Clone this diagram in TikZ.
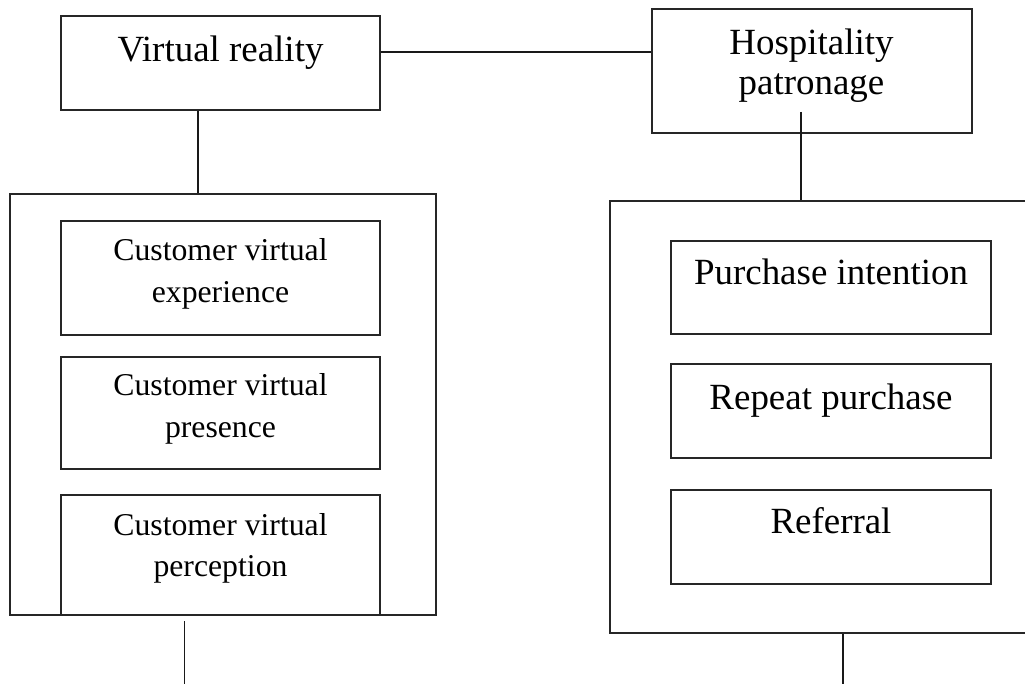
\documentclass[tikz,border=0pt]{standalone}
\usepackage{fontspec}
\setmainfont{Liberation Serif}
\begin{document}
\begin{tikzpicture}[x=0.75pt,y=-0.75pt,
  box/.style={draw=black!85, line width=1pt, rectangle, inner sep=0pt},
  conn/.style={draw=black!90, line width=1pt},
  lbl/.style={anchor=base, inner sep=0pt},
  big/.style={font=\fontsize{27.7}{30}\selectfont},
  small/.style={font=\fontsize{23.8}{31}\selectfont}]
\clip (0,0) rectangle (1025,684);
% boxes
\node[box, minimum width=319*0.75pt, minimum height=94*0.75pt] (vr) at (220.5,63) {};
\node[box, minimum width=320*0.75pt, minimum height=124*0.75pt] (hosp) at (812,71) {};
\node[box, minimum width=426*0.75pt, minimum height=421*0.75pt] (lc) at (223,404.5) {};
\node[box, minimum width=319*0.75pt, minimum height=114*0.75pt] (l1) at (220.5,278) {};
\node[box, minimum width=319*0.75pt, minimum height=112*0.75pt] (l2) at (220.5,413) {};
\node[box, minimum width=319*0.75pt, minimum height=120*0.75pt] (l3) at (220.5,555) {};
\node[box, minimum width=425*0.75pt, minimum height=432*0.75pt] (rc) at (822.5,417) {};
\node[box, minimum width=320*0.75pt, minimum height=93*0.75pt] (r1) at (831,287.5) {};
\node[box, minimum width=320*0.75pt, minimum height=94*0.75pt] (r2) at (831,411) {};
\node[box, minimum width=320*0.75pt, minimum height=94*0.75pt] (r3) at (831,537) {};
% labels
\node[lbl, big] (tvr) at (220.5,62) {Virtual reality};
\node[lbl, big] (thosp) at (811.5,55) {\begin{tabular}[t]{@{}c@{}}Hospitality\\patronage\end{tabular}};
\node[lbl, small] (tl1) at (220.5,261) {\begin{tabular}[t]{@{}c@{}}Customer virtual\\experience\end{tabular}};
\node[lbl, small] (tl2) at (220.5,396) {\begin{tabular}[t]{@{}c@{}}Customer virtual\\presence\end{tabular}};
\node[lbl, small] (tl3) at (220.5,535) {\begin{tabular}[t]{@{}c@{}}Customer virtual\\perception\end{tabular}};
\node[lbl, big] (tr1) at (831,285) {Purchase intention};
\node[lbl, big] (tr2) at (831,409) {Repeat purchase};
\node[lbl, big] (tr3) at (831,533) {Referral};
% connectors
\coordinate (hl) at (0,52);
\draw[conn] (vr.east |- hl) -- (hosp.west |- hl);
\coordinate (vl) at (198,0);
\draw[conn] (vr.south -| vl) -- (lc.north -| vl);
\coordinate (hp) at (801,112);
\draw[conn] (hp) -- (hp |- rc.north);
\coordinate (lb1) at (184.5,621);
\coordinate (lb2) at (184.5,690);
\draw[conn] (lb1) -- (lb2);
\coordinate (rb) at (843,690);
\draw[conn] (rb |- rc.south) -- (rb);
\end{tikzpicture}
\end{document}
